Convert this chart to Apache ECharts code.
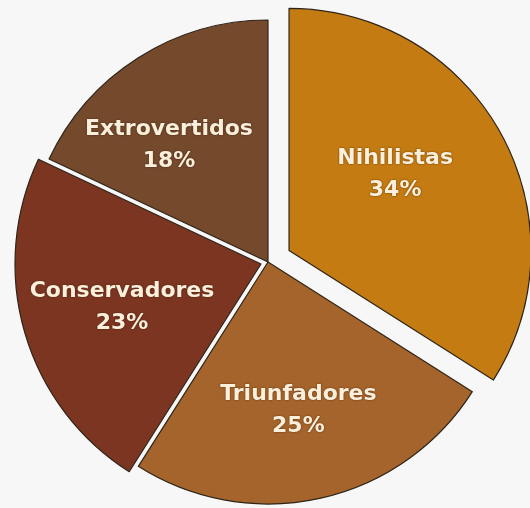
<!DOCTYPE html>
<html>
<head>
<meta charset="utf-8">
<script src="https://cdn.jsdelivr.net/npm/echarts@6/dist/echarts.min.js"></script>
<style>
  html, body { margin: 0; padding: 0; background: #f7f7f7; }
  #chart { width: 530px; height: 508px; }
</style>
</head>
<body>
<div id="chart"></div>
<script>
const categorias = ['Extrovertidos', 'Nihilistas', 'Triunfadores', 'Conservadores'];
const porcentajes = [18, 34, 25, 23];
const colores = ['#74492c', '#c47b12', '#a5642b', '#7c3521'];

const chart = echarts.init(document.getElementById('chart'));

const centro = [268, 262];
const radio = 242;
// Conservadores va un poco separado hacia la izquierda
const centroCons = [261, 264];
const radioCons = 246;
// Extrovertidos empieza en 295.2° (sentido horario desde arriba)
const inicio = 90 + porcentajes[0] * 3.6;

// ajustes finos de etiquetas
const desplaz = {
  Extrovertidos: [-17, 12],
  Nihilistas: [-7, -14],
  Triunfadores: [-3, -1],
  Conservadores: [1, 3]
};

const borde = { borderColor: '#2e2418', borderWidth: 1.2 };
const invisible = { color: 'rgba(0,0,0,0)', borderWidth: 0 };

const datosPie = categorias.map((c, i) => ({
  name: c,
  value: porcentajes[i],
  selected: c === 'Nihilistas',
  itemStyle: c === 'Conservadores' ? invisible : Object.assign({ color: colores[i] }, borde)
}));

const datosCons = categorias.map((c, i) => ({
  name: c,
  value: porcentajes[i],
  itemStyle: c === 'Conservadores' ? Object.assign({ color: colores[i] }, borde) : invisible
}));

const datosEtiq = categorias.map((c, i) => ({
  name: c,
  value: porcentajes[i],
  label: { offset: desplaz[c] || [0, 0] }
}));

const base = {
  type: 'pie',
  startAngle: inicio,
  clockwise: true,
  silent: true,
  animation: false,
  avoidLabelOverlap: false,
  labelLine: { show: false }
};

const option = {
  backgroundColor: '#f7f7f7',
  series: [
    Object.assign({}, base, {
      center: centro,
      radius: radio,
      selectedMode: 'multiple',
      selectedOffset: 24,
      label: { show: false },
      data: datosPie
    }),
    Object.assign({}, base, {
      center: centroCons,
      radius: radioCons,
      label: { show: false },
      data: datosCons
    }),
    Object.assign({}, base, {
      // serie transparente solo para colocar las etiquetas a ~0.62 r
      z: 5,
      center: centro,
      radius: radio * 1.24,
      itemStyle: invisible,
      labelLayout: { hideOverlap: false },
      label: {
        show: true,
        position: 'inside',
        formatter: '{b}\n{c}%',
        color: '#fcefdc',
        fontFamily: 'DejaVu Sans',
        fontWeight: 'bold',
        fontSize: 22,
        lineHeight: 32,
        textShadowColor: 'rgba(50,25,5,0.7)',
        textShadowBlur: 2
      },
      data: datosEtiq
    })
  ]
};

chart.setOption(option);
</script>
</body>
</html>
